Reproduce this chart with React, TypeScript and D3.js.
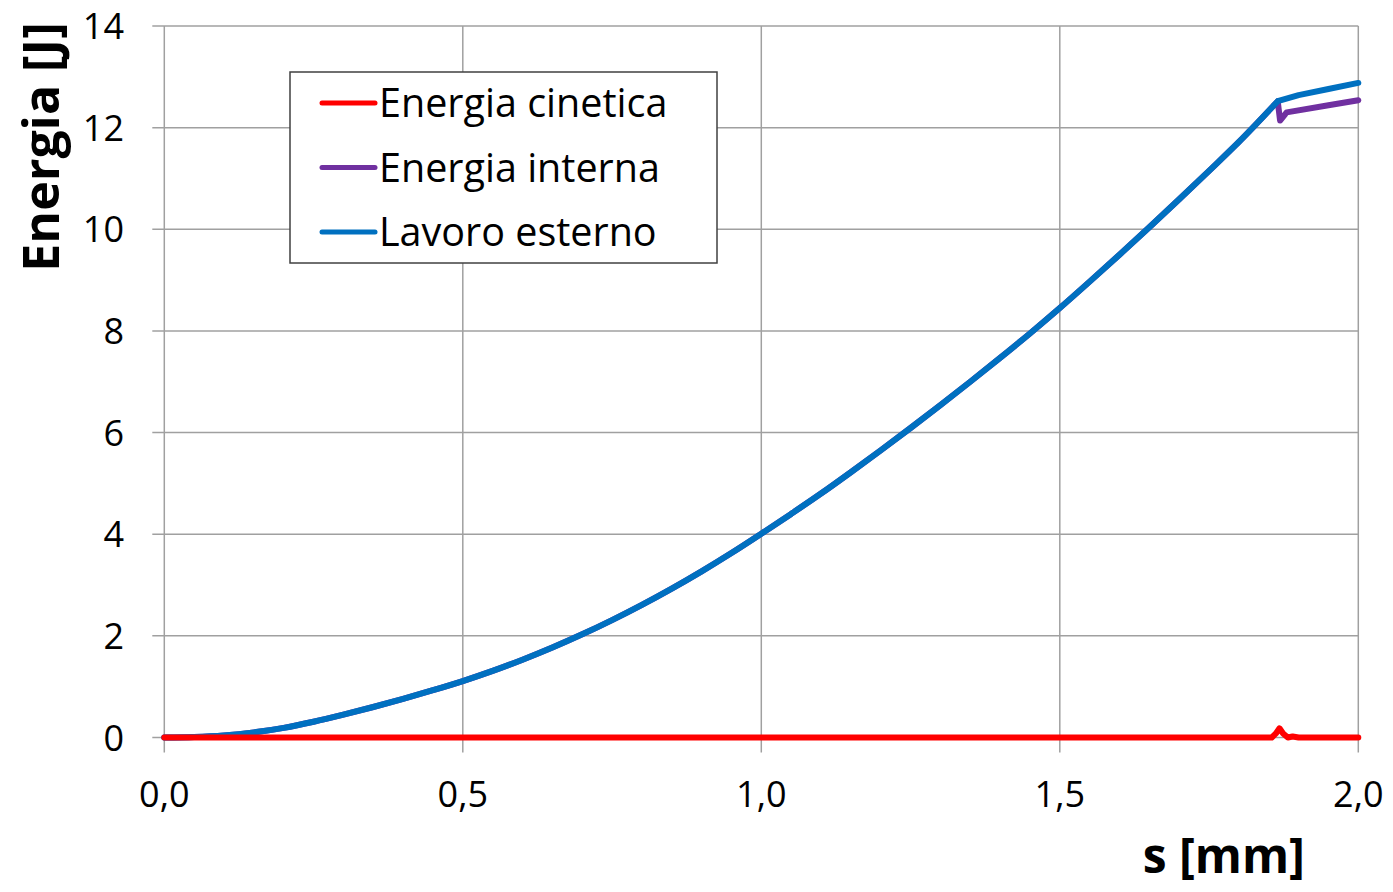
import React from "react";
import * as d3 from "d3";

// Displacement s [mm] and energies [J]
const sLavoro = [0, 0.05, 0.1, 0.15, 0.2, 0.25, 0.3, 0.35, 0.4, 0.45, 0.5, 0.55, 0.6, 0.65, 0.7, 0.75, 0.8, 0.85, 0.9, 0.95, 1.0, 1.05, 1.1, 1.15, 1.2, 1.25, 1.3, 1.35, 1.4, 1.45, 1.5, 1.55, 1.6, 1.65, 1.7, 1.75, 1.8, 1.865, 1.9, 1.95, 2.0];
const lavoroEsterno = [0, 0.01, 0.04, 0.1, 0.19, 0.31, 0.45, 0.6, 0.76, 0.93, 1.11, 1.31, 1.53, 1.77, 2.03, 2.31, 2.61, 2.93, 3.27, 3.63, 4.01, 4.4, 4.8, 5.22, 5.65, 6.09, 6.54, 7.0, 7.47, 7.95, 8.45, 8.97, 9.5, 10.04, 10.59, 11.15, 11.72, 12.52, 12.64, 12.76, 12.88];

const sInterna = [0, 0.05, 0.1, 0.15, 0.2, 0.25, 0.3, 0.35, 0.4, 0.45, 0.5, 0.55, 0.6, 0.65, 0.7, 0.75, 0.8, 0.85, 0.9, 0.95, 1.0, 1.05, 1.1, 1.15, 1.2, 1.25, 1.3, 1.35, 1.4, 1.45, 1.5, 1.55, 1.6, 1.65, 1.7, 1.75, 1.8, 1.865, 1.869, 1.88, 1.95, 2.0];
const energiaInterna = [0, 0.01, 0.04, 0.1, 0.19, 0.31, 0.45, 0.6, 0.76, 0.93, 1.11, 1.31, 1.53, 1.77, 2.03, 2.31, 2.61, 2.93, 3.27, 3.63, 4.01, 4.4, 4.8, 5.22, 5.65, 6.09, 6.54, 7.0, 7.47, 7.95, 8.45, 8.97, 9.5, 10.04, 10.59, 11.15, 11.72, 12.52, 12.14, 12.3, 12.44, 12.54];

const sCinetica = [0, 1.855, 1.862, 1.868, 1.874, 1.882, 1.89, 1.9, 2.0];
const energiaCinetica = [0, 0, 0.08, 0.18, 0.08, 0, 0.02, 0, 0];

// displacement where the loading curve breaks
const sKink = 1.865;

const xTicks = [0, 0.5, 1.0, 1.5, 2.0];
const yTicks = [0, 2, 4, 6, 8, 10, 12, 14];

const seriesNames = ["Energia cinetica", "Energia interna", "Lavoro esterno"];
const seriesColors = ["#ff0000", "#7030a0", "#0070c0"];

const W = 1393;
const H = 892;
const left = 164.3;
const right = 1358.3;
const top = 26;
const bottom = 737.5;

const FONT = "'Open Sans', 'Noto Sans', sans-serif";

export default function App() {
  const x = d3.scaleLinear().domain([0, 2]).range([left, right]);
  const y = d3.scaleLinear().domain([0, 14]).range([bottom, top]);

  const smooth = d3
    .line<[number, number]>()
    .x((d) => x(d[0]))
    .y((d) => y(d[1]))
    .curve(d3.curveMonotoneX);
  const straight = d3
    .line<[number, number]>()
    .x((d) => x(d[0]))
    .y((d) => y(d[1]));

  const zip = (s: number[], v: number[]) => s.map((si, i) => [si, v[i]] as [number, number]);

  // smooth loading branch up to the break, straight segments after it
  const branchPath = (s: number[], v: number[]) => {
    const pts = zip(s, v);
    const before = pts.filter((p) => p[0] <= sKink);
    const after = pts.filter((p) => p[0] >= sKink);
    const a = smooth(before) ?? "";
    const b = (straight(after) ?? "").replace(/^M/, "L");
    return a + b;
  };

  const paths = [
    { d: branchPath(sInterna, energiaInterna), color: seriesColors[1] },
    { d: branchPath(sLavoro, lavoroEsterno), color: seriesColors[2] },
    { d: straight(zip(sCinetica, energiaCinetica)) ?? "", color: seriesColors[0] },
  ];

  const fmt = (v: number) => v.toFixed(1).replace(".", ",");
  const gridColor = "#a0a0a0";

  return (
    <svg
      width={W}
      height={H}
      style={{ position: "absolute", left: 0, top: 0, background: "#fff" }}
    >
      <rect x={0} y={0} width={W} height={H} fill="#fff" />
      {/* horizontal gridlines with tick stubs */}
      {yTicks.map((t) => (
        <line key={"gy" + t} x1={left - 12} x2={right} y1={y(t)} y2={y(t)} stroke={gridColor} strokeWidth={1.5} />
      ))}
      {/* vertical gridlines with tick stubs */}
      {xTicks.map((t) => (
        <line key={"gx" + t} x1={x(t)} x2={x(t)} y1={top} y2={bottom + 15} stroke={gridColor} strokeWidth={1.5} />
      ))}

      {/* y tick labels */}
      {yTicks.map((t) => (
        <text
          key={"ty" + t}
          x={124}
          y={y(t) + 13}
          textAnchor="end"
          fontFamily={FONT}
          fontSize={36}
          fill="#000"
        >
          {t}
        </text>
      ))}
      {/* x tick labels */}
      {xTicks.map((t) => (
        <text
          key={"tx" + t}
          x={x(t)}
          y={807}
          textAnchor="middle"
          fontFamily={FONT}
          fontSize={36}
          fill="#000"
        >
          {fmt(t)}
        </text>
      ))}

      {/* series */}
      {paths.map((p, i) => (
        <path
          key={"p" + i}
          d={p.d}
          fill="none"
          stroke={p.color}
          strokeWidth={6}
          strokeLinejoin="round"
          strokeLinecap="round"
        />
      ))}

      {/* axis titles */}
      <text
        x={1305}
        y={873}
        textAnchor="end"
        fontFamily={FONT}
        fontWeight="bold"
        fontSize={48}
        fill="#000"
      >
        s [mm]
      </text>
      <text
        transform={`translate(59, 147) rotate(-90)`}
        textAnchor="middle"
        fontFamily={FONT}
        fontWeight="bold"
        fontSize={50}
        fill="#000"
      >
        Energia [J]
      </text>

      {/* legend */}
      <g>
        <rect x={290} y={72} width={427} height={191} fill="#fff" stroke="#404040" strokeWidth={1.5} />
        {seriesNames.map((name, i) => {
          const ly = 103 + i * 64.5;
          return (
            <g key={"lg" + i}>
              <line x1={322} x2={375} y1={ly} y2={ly} stroke={seriesColors[i]} strokeWidth={5} strokeLinecap="round" />
              <text x={379} y={ly + 14} fontFamily={FONT} fontSize={39.5} fill="#000">
                {name}
              </text>
            </g>
          );
        })}
      </g>
    </svg>
  );
}
